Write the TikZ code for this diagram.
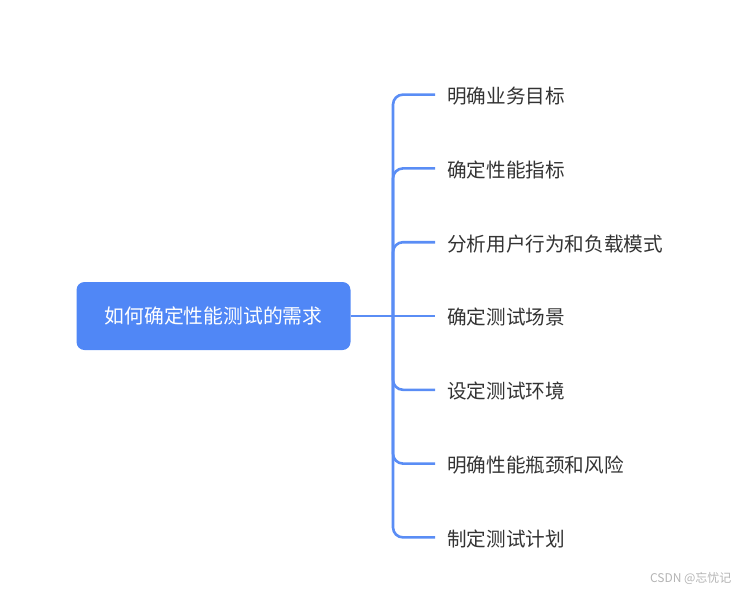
\documentclass[tikz,border=0pt]{standalone}
\usepackage{fontspec}
\setmainfont{Noto Sans CJK SC}
\usepackage{xcolor}
\usetikzlibrary{positioning}

\definecolor{mapblue}{HTML}{5087F6}
\definecolor{linkblue}{HTML}{5A8DF5}
\definecolor{leaftext}{HTML}{333333}
\definecolor{marktext}{HTML}{B4B4B4}

\begin{document}
\begin{tikzpicture}[
				x=1pt,y=-1pt,
				root/.style={rectangle,rounded corners=8pt,fill=mapblue,text=white,minimum width=274pt,minimum height=68pt,font=\fontsize{19.8}{24}\selectfont},
				leaf/.style={rectangle,anchor=west,inner xsep=12pt,inner ysep=0pt,yshift=-1.5pt,text=leaftext,font=\fontsize{19.6}{24}\selectfont},
				branch/.style={draw=linkblue,line width=2.6pt,rounded corners=10pt},
				credittext/.style={text=marktext,font=\fontsize{12}{14}\selectfont}
				]
				\useasboundingbox (0,0) rectangle (745,592);
				
				\node[root] (task) at (213.5,316) {如何确定性能测试的需求};
				\coordinate (hub) at (393,316);
				
				\node[leaf] (goal) at (435,94.6) {明确业务目标};
				\node[leaf] (metric) at (435,168.4) {确定性能指标};
				\node[leaf] (load) at (435,242.2) {分析用户行为和负载模式};
				\node[leaf] (scene) at (435,316) {确定测试场景};
				\node[leaf] (env) at (435,389.8) {设定测试环境};
				\node[leaf] (risk) at (435,463.6) {明确性能瓶颈和风险};
				\node[leaf] (plan) at (435,537.4) {制定测试计划};
				
				\node[credittext,anchor=east] (credit) at (735,578) {CSDN @忘忧记};
				
				\draw[branch] (task.east) -- (hub);
				\draw[branch] (hub) |- ([yshift=1.5pt]goal.west);
				\draw[branch] (hub) |- ([yshift=1.5pt]metric.west);
				\draw[branch] (hub) |- ([yshift=1.5pt]load.west);
				\draw[branch] (hub) -- ([yshift=1.5pt]scene.west);
				\draw[branch] (hub) |- ([yshift=1.5pt]env.west);
				\draw[branch] (hub) |- ([yshift=1.5pt]risk.west);
				\draw[branch] (hub) |- ([yshift=1.5pt]plan.west);
				
\end{tikzpicture}
\end{document}
